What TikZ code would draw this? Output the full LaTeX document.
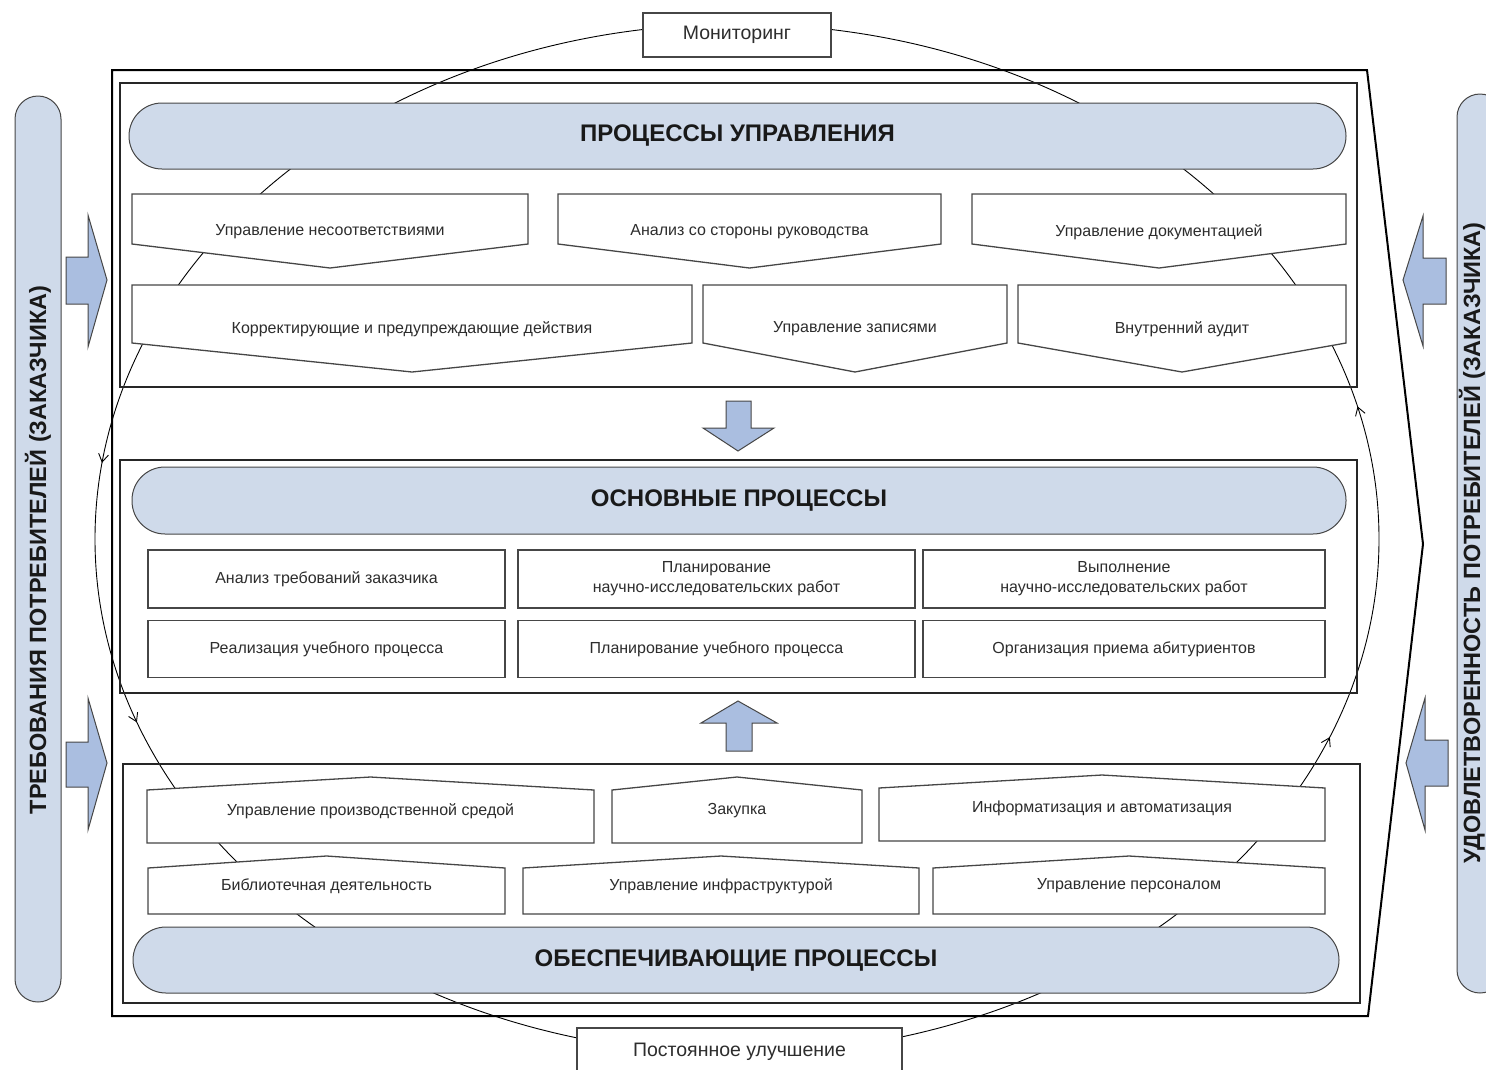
\documentclass[tikz,border=0pt]{standalone}
\usepackage{fontspec}
\setmainfont{Liberation Sans}
\usetikzlibrary{decorations.markings,arrows.meta}
\definecolor{pillblue}{RGB}{207,218,234}
\definecolor{arrblue}{RGB}{170,190,224}
\definecolor{edge}{RGB}{70,70,70}
\definecolor{txt}{RGB}{45,45,45}
\newcommand\PentShape[8]{%
  \draw[penta] (#2,#4) -- (#3,#4) -- (#3,#5) -- ({(#2+#3)/2},#6) -- (#2,#5) -- cycle;
  \node[lbl] (#1) at ({(#2+#3)/2},#7) {#8};}
\begin{document}
\begin{tikzpicture}[x=1pt,y=-1pt,
  frame/.style={draw=black,line width=2pt},
  inframe/.style={draw=black!85,line width=2.4pt},
  pill/.style={draw=edge,line width=1pt,fill=pillblue,rounded corners=33pt,inner sep=0pt,
    font=\bfseries\fontsize{24}{28}\selectfont,text=black!90},
  sidepill/.style={draw=edge,line width=1pt,fill=pillblue,rounded corners=23pt,inner sep=0pt},
  sidetext/.style={rotate=90,font=\bfseries\fontsize{23.5}{26}\selectfont,text=black!90,inner sep=0pt},
  penta/.style={draw=edge,line width=1.3pt,fill=white},
  lbl/.style={font=\fontsize{16}{20}\selectfont,text=txt,align=center,inner sep=0pt},
  mbox/.style={draw=edge,line width=1.5pt,fill=white,inner sep=0pt,
    font=\fontsize{16}{20}\selectfont,text=txt,align=center},
  blockarrow/.style={draw=edge,line width=1pt,fill=arrblue,line join=miter},
  tagbox/.style={draw=edge,line width=1.3pt,fill=white,inner sep=0pt,font=\fontsize{19.5}{22}\selectfont,text=txt},
  cyc/.style={draw=black,line width=0.9pt}
]
\useasboundingbox (0,0) rectangle (1486,1069);

% cycle ellipse
\draw[cyc,decoration={markings,
   mark=at position 0.0565 with {\arrowreversed{Straight Barb[length=8pt,width=10pt]}},
   mark=at position 0.448 with {\arrowreversed{Straight Barb[length=8pt,width=10pt]}},
   mark=at position 0.521 with {\arrowreversed{Straight Barb[length=8pt,width=10pt]}},
   mark=at position 0.963 with {\arrowreversed{Straight Barb[length=8pt,width=10pt]}}},
   postaction={decorate}] (737,539) ellipse [x radius=642, y radius=515];

% outer frame
\draw[frame,line join=miter] (112,70) -- (1367,70) -- (1423,544) -- (1368,1016) -- (112,1016) -- cycle;

% inner frames
\draw[inframe] (120,83) rectangle (1357,387);
\draw[inframe] (120,460) rectangle (1357,693);
\draw[inframe] (123,764) rectangle (1360,1003);

% side pills
\node[sidepill,minimum width=46pt,minimum height=906pt] (lpill) at (38,549) {};
\node[sidetext] (ltext) at (38,550) {ТРЕБОВАНИЯ ПОТРЕБИТЕЛЕЙ (ЗАКАЗЧИКА)};
\node[sidepill,minimum width=46pt,minimum height=899pt] (rpill) at (1480,543.5) {};
\node[sidetext] (rtext) at (1472,543) {УДОВЛЕТВОРЕННОСТЬ ПОТРЕБИТЕЛЕЙ (ЗАКАЗЧИКА)};

% side block arrows
\draw[blockarrow] (66,257) -- (88,257) -- (88,215) -- (107,280) -- (88,347) -- (88,304) -- (66,304) -- cycle;
\draw[blockarrow] (66,742) -- (88,742) -- (88,698) -- (107,763) -- (88,830) -- (88,787) -- (66,787) -- cycle;
\draw[blockarrow] (1446,258) -- (1423,258) -- (1423,216) -- (1403,280) -- (1423,346) -- (1423,304) -- (1446,304) -- cycle;
\draw[blockarrow] (1448,740) -- (1425,740) -- (1425,698) -- (1406,763) -- (1425,830) -- (1425,786) -- (1448,786) -- cycle;

% middle block arrows
\draw[blockarrow] (726,401) -- (751,401) -- (751,428) -- (774,428) -- (738,451) -- (703,428) -- (726,428) -- cycle;
\draw[blockarrow] (726,751) -- (752,751) -- (752,723) -- (777,723) -- (738,701) -- (701,723) -- (726,723) -- cycle;

% title pills
\node[pill,minimum width=1217pt,minimum height=66pt] (pupr) at (737.5,136) {ПРОЦЕССЫ УПРАВЛЕНИЯ};
\node[pill,minimum width=1214pt,minimum height=67pt] (posn) at (739,500.5) {ОСНОВНЫЕ ПРОЦЕССЫ};
\node[pill,minimum width=1206pt,minimum height=66pt] (pobe) at (736,960) {ОБЕСПЕЧИВАЮЩИЕ ПРОЦЕССЫ};

% management processes (pointing down)
\PentShape{m1}{132}{528}{194}{244}{268}{232}{Управление несоответствиями}
\PentShape{m2}{558}{941}{194}{244}{268}{232}{Анализ со стороны руководства}
\PentShape{m3}{972}{1346}{194}{244}{268}{232}{Управление документацией}
\PentShape{m4}{132}{692}{285}{343}{372}{329}{Корректирующие и предупреждающие действия}
\PentShape{m5}{703}{1007}{285}{343}{372}{329}{Управление записями}
\PentShape{m6}{1018}{1346}{285}{343}{372}{329}{Внутренний аудит}

% main processes
\node[mbox,minimum width=357pt,minimum height=58pt] (o1) at (326.5,579) {Анализ требований заказчика};
\node[mbox,minimum width=397pt,minimum height=58pt] (o2) at (716.5,579) {Планирование\\научно-исследовательских работ};
\node[mbox,minimum width=402pt,minimum height=58pt] (o3) at (1124,579) {Выполнение\\научно-исследовательских работ};
\node[mbox,minimum width=357pt,minimum height=57pt] (o4) at (326.5,649) {Реализация учебного процесса};
\node[mbox,minimum width=397pt,minimum height=57pt] (o5) at (716.5,649) {Планирование учебного процесса};
\node[mbox,minimum width=402pt,minimum height=57pt] (o6) at (1124,649) {Организация приема абитуриентов};

% supporting processes (pointing up)
\PentShape{s1}{147}{594}{843}{790}{777}{811}{Управление производственной средой}
\PentShape{s2}{612}{862}{843}{790}{777}{811}{Закупка}
\PentShape{s3}{879}{1325}{841}{788}{775}{808}{Информатизация и автоматизация}
\PentShape{s4}{148}{505}{914}{868}{856}{886}{Библиотечная деятельность}
\PentShape{s5}{523}{919}{914}{868}{856}{886}{Управление инфраструктурой}
\PentShape{s6}{933}{1325}{914}{868}{856}{886}{Управление персоналом}

% monitoring and improvement tags
\node[tagbox,minimum width=188pt,minimum height=44pt] (mon) at (737,35) {Мониторинг};
\fill[white] (577,1028) rectangle (902,1080);
\draw[draw=edge,line width=1.3pt] (577,1080) -- (577,1028) -- (902,1028) -- (902,1080);
\node[font=\fontsize{19.5}{22}\selectfont,text=txt] (imp) at (739.5,1052) {Постоянное улучшение};
\end{tikzpicture}
\end{document}
